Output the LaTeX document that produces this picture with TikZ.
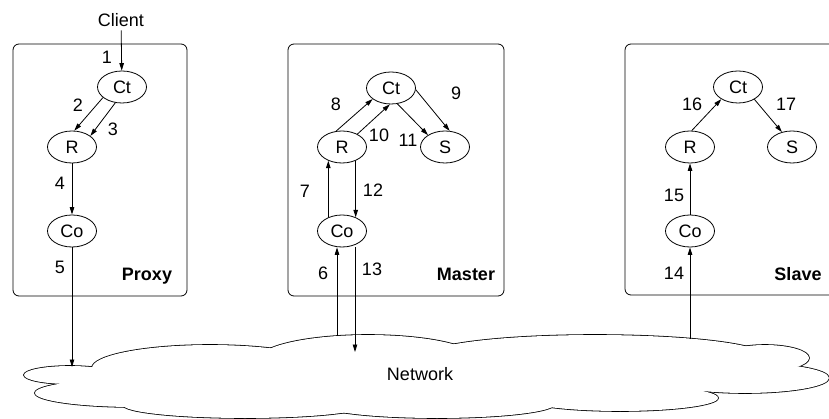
\documentclass[tikz,border=0pt]{standalone}
\usepackage{fontspec}
\setmainfont{Liberation Sans}
\usetikzlibrary{arrows.meta,shapes.geometric}

% lobes of the network cloud: centre x / centre y / x radius / y radius
\newcommand\cloudlobes{70/375/46/9, 135/393/100/14, 210/368/118/23,
  368/360/110/25, 595/356/170/21, 765/358/44/13, 745/378/84/15,
  620/398/98/13, 437/404/118/14, 245/405/122/13}

\begin{document}
\begin{tikzpicture}[x=1pt,y=-1pt,
  font=\fontsize{18}{21}\selectfont,
  line width=0.8pt,
  comp/.style={draw,ellipse,minimum width=49pt,minimum height=32pt,inner sep=0pt},
  flow/.style={-{Triangle[length=7.5pt,width=4.5pt]}},
  host/.style={draw,rounded corners=6pt},
  num/.style={inner sep=0pt},
  hostname/.style={font=\fontsize{18}{21}\selectfont\bfseries,inner sep=0pt,anchor=base},
  lobeline/.style={line width=1.6pt}]
\path[use as bounding box] (0,0) rectangle (829,419);
\clip (0,0) rectangle (829,419);

% network cloud: stroke every lobe, then blank out the inside of the union
\foreach \cx/\cy/\rx/\ry in \cloudlobes
  \draw[lobeline] (\cx,\cy) ellipse [x radius=\rx pt, y radius=\ry pt];
\foreach \cx/\cy/\rx/\ry in \cloudlobes
  \fill[white] (\cx,\cy) ellipse [x radius=\rx pt, y radius=\ry pt];
\fill[white] (80,378) -- (120,368) -- (200,356) -- (300,350) -- (400,345)
  -- (500,348) -- (600,345) -- (700,350) -- (760,360) -- (800,372)
  -- (760,385) -- (720,388) -- (700,392) -- (620,405) -- (540,405)
  -- (440,412) -- (340,408) -- (245,412) -- (150,402) -- cycle;
\node (net) at (420,374) {Network};

% host boxes
\draw[host] (13,44) rectangle (187,296);
\draw[host] (288,44) rectangle (504,296);
\draw[host] (625,44) rectangle (850,295);
\node[hostname] (proxyname) at (147,280) {Proxy};
\node[hostname] (mastername) at (466,280) {Master};
\node[hostname] (slavename) at (798,280) {Slave};

% components
\node (client) at (121,20) {Client};
\node[comp] (pct) at (122,87) {Ct};
\node[comp] (pr) at (72,147) {R};
\node[comp] (pco) at (72,231) {Co};

\node[comp] (mct) at (391,88) {Ct};
\node[comp] (mr) at (342,147) {R};
\node[comp] (ms) at (445,147) {S};
\node[comp] (mco) at (342,231) {Co};

\node[comp] (sct) at (738,87) {Ct};
\node[comp] (sr) at (690,147) {R};
\node[comp] (ss) at (792,147) {S};
\node[comp] (sco) at (690,231) {Co};

% points where the links meet the cloud
\coordinate (c5) at (72,367);
\coordinate (c6) at (337,336);
\coordinate (c13) at (355,352);
\coordinate (c14) at (690,339);

% proxy
\draw[flow] (client) -- (pct);
\draw[flow] (pct.209) -- (pr.82);
\draw[flow] (pct.247) -- (pr.31);
\draw[flow] (pr) -- (pco);
\draw[flow] (pco) -- (c5);

% master
\draw[flow] (c6) -- (c6 |- mco.south);
\draw[flow] (mco.135) -- (mr.225);
\draw[flow] (mr.110) -- (mct.211);
\draw[flow] (mct.356) -- (ms.74);
\draw[flow] (mr.40) -- (mct.266);
\draw[flow] (mct.292) -- (ms.145);
\draw[flow] (mr.315) -- (mco.45);
\draw[flow] (c13 |- mco.south) -- (c13);

% slave
\draw[flow] (c14) -- (sco);
\draw[flow] (sco) -- (sr);
\draw[flow] (sr.84) -- (sct.216);
\draw[flow] (sct.323) -- (ss.124);

% step numbers
\node[num] (n1) at (107,57) {1};
\node[num] (n2) at (78,105) {2};
\node[num] (n3) at (113,129) {3};
\node[num] (n4) at (60,183) {4};
\node[num] (n5) at (60,267) {5};
\node[num] (n6) at (323,273) {6};
\node[num] (n7) at (305,191) {7};
\node[num] (n8) at (336,104) {8};
\node[num] (n9) at (456,93) {9};
\node[num] (n10) at (379,135) {10};
\node[num] (n11) at (408,140) {11};
\node[num] (n12) at (373,190) {12};
\node[num] (n13) at (372,269) {13};
\node[num] (n14) at (674,273) {14};
\node[num] (n15) at (674,195) {15};
\node[num] (n16) at (692,104) {16};
\node[num] (n17) at (786,104) {17};
\end{tikzpicture}
\end{document}
